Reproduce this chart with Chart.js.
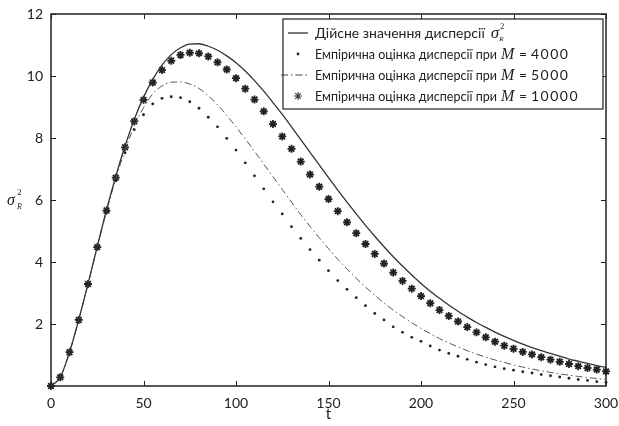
<!DOCTYPE html>
<html>
<head>
<meta charset="utf-8">
<script src="https://cdn.jsdelivr.net/npm/chart.js@4.4.0/dist/chart.umd.min.js"></script>
<style>
  body { margin: 0; background: #fff; }
  canvas { display: block; }
</style>
</head>
<body>
<canvas id="myChart" width="619" height="426"></canvas>
<script>
// time points (every 5)
const tValues = [0, 5, 10, 15, 20, 25, 30, 35, 40, 45, 50, 55, 60, 65, 70, 75, 80, 85, 90, 95,
  100, 105, 110, 115, 120, 125, 130, 135, 140, 145, 150, 155, 160, 165, 170, 175, 180, 185, 190, 195,
  200, 205, 210, 215, 220, 225, 230, 235, 240, 245, 250, 255, 260, 265, 270, 275, 280, 285, 290, 295, 300];

// actual variance
const trueVar = [0, 0.28, 1.09, 2.14, 3.30, 4.50, 5.68, 6.76, 7.74, 8.60, 9.31, 9.89, 10.35, 10.69, 10.91, 11.03, 11.04, 10.96, 10.83, 10.65,
  10.43, 10.16, 9.85, 9.51, 9.14, 8.76, 8.36, 7.95, 7.54, 7.13, 6.72, 6.32, 5.93, 5.55, 5.18, 4.83, 4.49, 4.17, 3.87, 3.58,
  3.31, 3.06, 2.83, 2.61, 2.41, 2.22, 2.05, 1.89, 1.74, 1.60, 1.47, 1.35, 1.24, 1.14, 1.05, 0.96, 0.87, 0.80, 0.73, 0.66, 0.60];

// empirical estimate, M = 4000
const est4000 = [0, 0.28, 1.09, 2.12, 3.27, 4.45, 5.60, 6.62, 7.52, 8.27, 8.75, 9.10, 9.28, 9.33, 9.30, 9.17, 8.96, 8.67, 8.36, 7.99,
  7.61, 7.20, 6.78, 6.36, 5.94, 5.55, 5.14, 4.76, 4.40, 4.06, 3.72, 3.40, 3.12, 2.85, 2.59, 2.34, 2.13, 1.91, 1.73, 1.57,
  1.44, 1.29, 1.16, 1.05, 0.96, 0.86, 0.77, 0.69, 0.62, 0.56, 0.51, 0.46, 0.42, 0.37, 0.33, 0.29, 0.25, 0.21, 0.18, 0.14, 0.12];

// empirical estimate, M = 5000
const est5000 = [0, 0.28, 1.09, 2.13, 3.28, 4.47, 5.63, 6.68, 7.60, 8.38, 8.98, 9.42, 9.68, 9.80, 9.81, 9.74, 9.60, 9.36, 9.07, 8.73,
  8.36, 7.97, 7.57, 7.16, 6.75, 6.34, 5.93, 5.53, 5.15, 4.78, 4.43, 4.09, 3.77, 3.47, 3.19, 2.93, 2.68, 2.45, 2.24, 2.04,
  1.86, 1.69, 1.53, 1.39, 1.26, 1.14, 1.03, 0.93, 0.84, 0.76, 0.68, 0.61, 0.55, 0.49, 0.44, 0.39, 0.35, 0.31, 0.27, 0.24, 0.21];

// empirical estimate, M = 10000
const est10000 = [0, 0.28, 1.09, 2.13, 3.29, 4.48, 5.66, 6.72, 7.70, 8.54, 9.23, 9.79, 10.19, 10.49, 10.68, 10.75, 10.73, 10.63, 10.44, 10.21,
  9.93, 9.59, 9.24, 8.86, 8.45, 8.05, 7.65, 7.24, 6.82, 6.43, 6.03, 5.64, 5.28, 4.93, 4.58, 4.26, 3.95, 3.66, 3.39, 3.14,
  2.90, 2.67, 2.45, 2.26, 2.08, 1.90, 1.73, 1.57, 1.43, 1.30, 1.20, 1.10, 1.02, 0.93, 0.85, 0.78, 0.71, 0.64, 0.58, 0.53, 0.47];

const xTicks = [0, 50, 100, 150, 200, 250, 300];
const yTicks = [2, 4, 6, 8, 10, 12];
const mValues = ['4000', '5000', '10000'];

const toPoints = arr => tValues.map((t, i) => ({ x: t, y: arr[i] }));
const DASH_DOT = [7, 3, 1.5, 3];

// box, inward ticks on all four sides
const framePlugin = {
  id: 'frame',
  beforeDatasetsDraw(chart) {
    const { ctx, chartArea: a, scales: { x, y } } = chart;
    ctx.save();
    ctx.strokeStyle = '#222';
    ctx.lineWidth = 1.5;
    ctx.strokeRect(a.left, a.top, a.right - a.left, a.bottom - a.top);
    ctx.lineWidth = 1;
    ctx.beginPath();
    xTicks.forEach(v => {
      const px = Math.round(x.getPixelForValue(v)) + 0.5;
      ctx.moveTo(px, a.bottom); ctx.lineTo(px, a.bottom - 5);
      ctx.moveTo(px, a.top); ctx.lineTo(px, a.top + 5);
    });
    yTicks.forEach(v => {
      const py = Math.round(y.getPixelForValue(v)) + 0.5;
      ctx.moveTo(a.left, py); ctx.lineTo(a.left + 5, py);
      ctx.moveTo(a.right, py); ctx.lineTo(a.right - 5, py);
    });
    ctx.stroke();
    ctx.restore();
  },
  afterDraw(chart) {
    const { ctx, scales: { x } } = chart;
    ctx.save();
    ctx.fillStyle = '#222';
    // x title
    ctx.font = '15px Lato';
    ctx.textAlign = 'center';
    ctx.textBaseline = 'alphabetic';
    ctx.fillText('t', x.getPixelForValue(150), 419);
    // y title: sigma_R^2
    ctx.textAlign = 'left';
    ctx.font = 'italic 16px "Liberation Serif"';
    ctx.fillText('σ', 7, 205);
    ctx.font = '9px "Liberation Serif"';
    ctx.fillText('2', 17, 195);
    ctx.font = 'italic 8px "Liberation Serif"';
    ctx.fillText('R', 17, 209);
    ctx.restore();
  }
};

// legend box top right
const legendPlugin = {
  id: 'customLegend',
  afterDraw(chart) {
    const ctx = chart.ctx;
    const bx = 283, by = 19, bw = 320, bh = 90;
    const rows = [33, 54, 75, 96];
    const textX = 315;
    ctx.save();
    ctx.fillStyle = '#fff';
    ctx.fillRect(bx, by, bw, bh);
    ctx.strokeStyle = '#222';
    ctx.lineWidth = 1.2;
    ctx.strokeRect(bx, by, bw, bh);

    // symbols
    ctx.strokeStyle = '#222';
    ctx.lineWidth = 1.2;
    ctx.beginPath();
    ctx.moveTo(288, rows[0]); ctx.lineTo(308, rows[0]);
    ctx.stroke();

    ctx.fillStyle = '#222';
    ctx.beginPath();
    ctx.arc(298, rows[1], 1.4, 0, Math.PI * 2);
    ctx.fill();

    ctx.setLineDash(DASH_DOT);
    ctx.strokeStyle = '#444';
    ctx.beginPath();
    ctx.moveTo(281, rows[2]); ctx.lineTo(308, rows[2]);
    ctx.stroke();
    ctx.setLineDash([]);

    Chart.helpers.drawPoint(ctx, {
      pointStyle: 'star', radius: 4, borderWidth: 1.8
    }, 298, rows[3]);

    // text
    ctx.fillStyle = '#222';
    ctx.textBaseline = 'middle';
    ctx.textAlign = 'left';
    const sans = '14px Lato';
    ctx.font = sans;
    const head = 'Дійсне значення дисперсії';
    ctx.fillText(head, textX, rows[0]);
    const sx = textX + ctx.measureText(head).width + 6;
    ctx.font = 'italic 17px "Liberation Serif"';
    ctx.fillText('σ', sx, rows[0] + 1);
    const sw = ctx.measureText('σ').width;
    ctx.font = '8px "Liberation Serif"';
    ctx.fillText('2', sx + sw + 1, rows[0] - 6);
    ctx.font = 'italic 7px "Liberation Serif"';
    ctx.fillText('R', sx + sw, rows[0] + 6);

    const label = 'Емпірична оцінка дисперсії при';
    mValues.forEach((m, i) => {
      const ry = rows[i + 1];
      ctx.font = sans;
      ctx.fillText(label, textX, ry, 182);
      ctx.font = 'italic 16px "Liberation Serif"';
      ctx.fillText('M', 501, ry + 1);
      ctx.font = sans;
      ctx.fillText('=', 519, ry);
      ctx.letterSpacing = '1.5px';
      ctx.fillText(m, 531, ry);
      ctx.letterSpacing = '0px';
    });
    ctx.restore();
  }
};

new Chart(document.getElementById('myChart'), {
  type: 'line',
  data: {
    datasets: [
      {
        label: 'Дійсне значення дисперсії',
        data: toPoints(trueVar),
        borderColor: '#333',
        borderWidth: 1.3,
        pointRadius: 0,
        cubicInterpolationMode: 'monotone',
        clip: false
      },
      {
        label: 'M = 4000',
        data: toPoints(est4000),
        showLine: false,
        pointStyle: 'circle',
        pointRadius: 1.4,
        pointBackgroundColor: '#222',
        pointBorderWidth: 0,
        clip: false
      },
      {
        label: 'M = 5000',
        data: toPoints(est5000),
        borderColor: '#555',
        borderWidth: 1,
        borderDash: DASH_DOT,
        pointRadius: 0,
        cubicInterpolationMode: 'monotone',
        clip: false
      },
      {
        label: 'M = 10000',
        data: toPoints(est10000),
        showLine: false,
        pointStyle: 'star',
        pointRadius: 4,
        pointBorderColor: '#222',
        pointBorderWidth: 1.8,
        clip: false
      }
    ]
  },
  options: {
    responsive: false,
    animation: false,
    layout: { padding: { top: 14, right: 13, left: 0, bottom: 0 } },
    plugins: {
      legend: { display: false },
      tooltip: { enabled: false }
    },
    scales: {
      x: {
        type: 'linear',
        min: 0,
        max: 300,
        afterBuildTicks: s => { s.ticks = xTicks.map(v => ({ value: v })); },
        afterFit: s => { s.height = 40; s.paddingLeft = 0; s.paddingRight = 0; },
        grid: { display: false, drawTicks: false },
        border: { display: false },
        ticks: { padding: 9, color: '#222', font: { family: 'Lato', size: 14 } }
      },
      y: {
        min: 0,
        max: 12,
        afterBuildTicks: s => { s.ticks = yTicks.map(v => ({ value: v })); },
        afterFit: s => { s.width = 51; s.paddingTop = 0; s.paddingBottom = 0; },
        grid: { display: false, drawTicks: false },
        border: { display: false },
        ticks: { padding: 8, color: '#222', font: { family: 'Lato', size: 14 } }
      }
    }
  },
  plugins: [framePlugin, legendPlugin]
});
</script>
</body>
</html>
